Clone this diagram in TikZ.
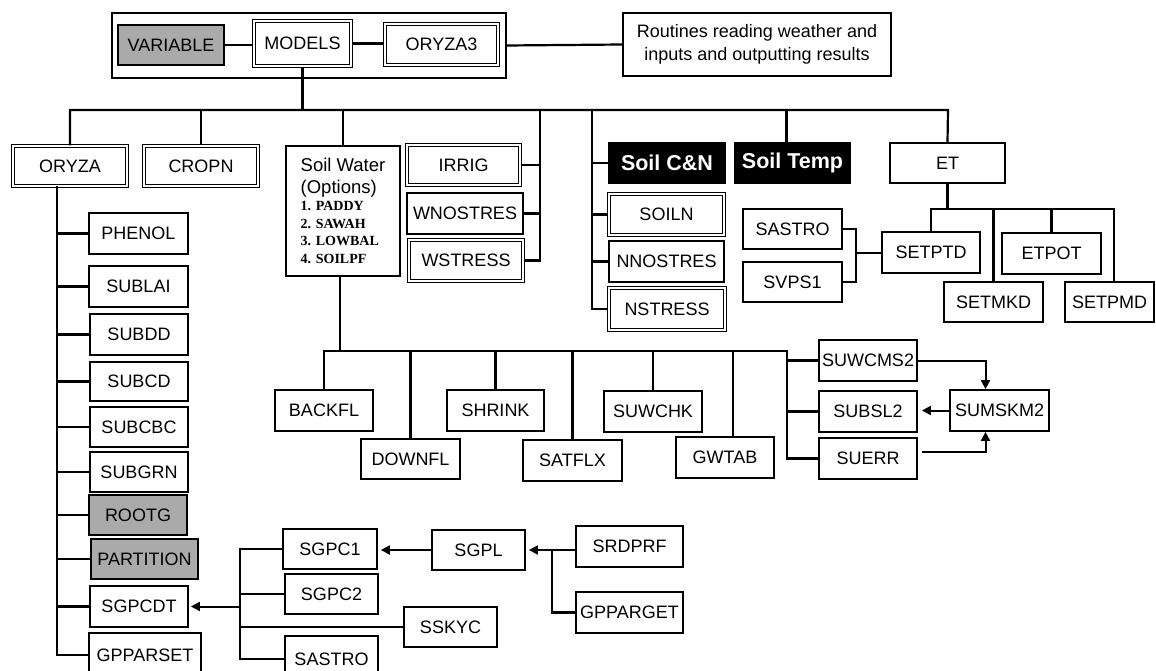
\documentclass[tikz,border=0pt]{standalone}
\usepackage{fontspec}
\setmainfont{Liberation Sans}
\newfontfamily\listserif{Liberation Serif}
\usetikzlibrary{arrows.meta}
\definecolor{boxgray}{RGB}{170,170,170}
\newcommand\bx[7]{\node[#1,minimum width={(#4-#2)*1pt},minimum height={(#5-#3)*1pt}] (#6) at ({(#2+#4)/2},{(#3+#5)/2}) {#7};}
\newcommand\listf{\listserif\bfseries\fontsize{14}{17}\selectfont}
\tikzset{
  box/.style={draw, line width=1.8pt, inner sep=0pt, fill=white, text=black, font=\fontsize{18}{21}\selectfont},
  dbox/.style={box, double, double distance=1.8pt, line width=1.4pt},
  gbox/.style={box, fill=boxgray},
  bbox/.style={box, fill=black, text=white, font=\bfseries\fontsize{21.5}{24}\selectfont},
  conn/.style={line width=2.2pt, line join=miter},
  arr/.style={line width=2pt, -{Triangle[length=9pt,width=9pt]}},
}
\begin{document}
\begin{tikzpicture}[x=1pt,y=-1pt]
\useasboundingbox (0,0) rectangle (1156,671);
\clip (0,0) rectangle (1156,671);
% top
\bx{box}{112}{13}{506}{78}{frame}{}
\bx{gbox}{118}{25}{224}{65}{variable}{VARIABLE}
\bx{dbox}{254}{21}{351}{66}{models}{MODELS}
\bx{dbox}{385}{24}{498}{65}{oryza3}{ORYZA3}
\bx{box,align=center,font=\fontsize{18}{22.5}\selectfont}{623}{13}{891}{76}{routines}{Routines reading weather and\\inputs and outputting results}
% level 1
\bx{dbox}{13}{146}{127}{186}{oryza}{ORYZA}
\bx{dbox}{144}{146}{258}{186}{cropn}{CROPN}
\bx{box,align=left,font=\fontsize{18.5}{22}\selectfont}{286}{146}{400}{276}{soilwater}{Soil Water\\(Options)\\[-5pt]{\listf 1. PADDY}\\[-4.5pt]{\listf 2. SAWAH}\\[-4.5pt]{\listf 3. LOWBAL}\\[-4.5pt]{\listf 4. SOILPF}}
\bx{dbox}{407}{145}{520}{185}{irrig}{IRRIG}
\bx{box}{407}{193}{523}{234}{wnostres}{WNOSTRES}
\bx{dbox}{409}{240}{523}{281}{wstress}{WSTRESS}
\bx{bbox}{609}{143}{725}{183}{soilcn}{Soil C\&N}
\bx{dbox}{609}{194}{724}{235}{soiln}{SOILN}
\bx{box}{609}{241}{724}{282}{nnostres}{NNOSTRES}
\bx{dbox}{609}{288}{725}{330}{nstress}{NSTRESS}
\bx{bbox}{735}{143}{850}{183}{soiltemp}{Soil Temp}
\bx{box}{890}{143}{1005}{183}{et}{ET}
\bx{box}{743}{209}{842}{249}{sastroA}{SASTRO}
\bx{box}{743}{262}{842}{302}{svps}{SVPS1}
\bx{box}{882}{232}{980}{273}{setptd}{SETPTD}
\bx{box}{944}{282}{1043}{322}{setmkd}{SETMKD}
\bx{box}{1002}{233}{1101}{274}{etpot}{ETPOT}
\bx{box}{1065}{282}{1154}{322}{setpmd}{SETPMD}
% left column
\bx{box}{89}{213}{188}{254}{phenol}{PHENOL}
\bx{box}{89}{266}{188}{307}{sublai}{SUBLAI}
\bx{box}{90}{314}{188}{355}{subdd}{SUBDD}
\bx{box}{90}{362}{188}{401}{subcd}{SUBCD}
\bx{box}{90}{407}{188}{447}{subcbc}{SUBCBC}
\bx{box}{90}{452}{188}{492}{subgrn}{SUBGRN}
\bx{gbox}{89}{495}{187}{535}{rootg}{ROOTG}
\bx{gbox}{91}{539}{198}{579}{partition}{PARTITION}
\bx{box}{90}{586}{188}{627}{sgpcdt}{SGPCDT}
\bx{box}{89}{633}{201}{677}{gpparset}{GPPARSET}
% soil water subroutines
\bx{box}{275}{390}{373}{431}{backfl}{BACKFL}
\bx{box}{361}{439}{460}{479}{downfl}{DOWNFL}
\bx{box}{447}{390}{544}{431}{shrink}{SHRINK}
\bx{box}{523}{440}{622}{481}{satflx}{SATFLX}
\bx{box}{604}{391}{702}{432}{suwchk}{SUWCHK}
\bx{box}{676}{437}{774}{478}{gwtab}{GWTAB}
\bx{box}{819}{340}{917}{381}{suwcms}{SUWCMS2}
\bx{box}{819}{391}{917}{432}{subsl}{SUBSL2}
\bx{box}{819}{438}{917}{479}{suerr}{SUERR}
\bx{box}{950}{390}{1049}{431}{sumskm}{SUMSKM2}
% bottom
\bx{box}{283}{529}{377}{569}{sgpc1}{SGPC1}
\bx{box}{285}{574}{378}{614}{sgpc2}{SGPC2}
\bx{box}{404}{607}{497}{647}{sskyc}{SSKYC}
\bx{box}{285}{636}{378}{682}{sastroB}{SASTRO}
\bx{box}{432}{530}{525}{570}{sgpl}{SGPL}
\bx{box}{576}{526}{683}{567}{srdprf}{SRDPRF}
\bx{box}{576}{592}{683}{633}{gppar}{GPPARGET}

% connectors top
\coordinate (busL) at (70,110);
\coordinate (busR) at (948,110);
\draw[conn] (variable.east) -- (variable.east -| models.west);
\draw[conn] (models.east) -- (models.east -| oryza3.west);
\draw[conn] (frame.east) -- (routines.west);
\draw[conn] (models.south) -- (models.south |- busL);
\draw[conn] (oryza.north) |- (busR) -- (et.north);
\draw[conn] (cropn.north) -- (cropn.north |- busL);
\draw[conn] (soilwater.north) -- (soilwater.north |- busL);
\draw[conn] ([xshift=-6pt]soiltemp.north) -- ([xshift=-6pt]soiltemp.north |- busL);
% IRRIG group
\coordinate (iv) at (540,110);
\draw[conn] (iv) |- (wstress.east);
\draw[conn] (irrig.east) -- (irrig.east -| iv);
\draw[conn] (wnostres.east) -- (wnostres.east -| iv);
% Soil C&N group
\coordinate (cv) at (592,110);
\draw[conn] (cv) |- (nstress.west);
\foreach \n in {soilcn,soiln,nnostres} \draw[conn] (cv |- \n.west) -- (\n.west);
% ET group
\coordinate (e2R) at (1114,209);
\draw[conn] (et.south) -- (et.south |- e2R);
\draw[conn] (setptd.north) |- (e2R) -- (e2R |- setpmd.north);
\draw[conn] (setmkd.north) -- (setmkd.north |- e2R);
\draw[conn] (etpot.north) -- (etpot.north |- e2R);
\coordinate (sj) at (856,253);
\draw[conn] (sastroA.east) -| (sj) |- (svps.east);
\draw[conn] (sj) -- (sj -| setptd.west);
% ORYZA trunk
\coordinate (ot) at (57,186);
\draw[conn] (ot) |- (gpparset.west);
\foreach \n in {phenol,sublai,subdd,subcd,subcbc,subgrn,rootg,partition,sgpcdt} \draw[conn] (ot |- \n.west) -- (\n.west);
% soil water bus
\coordinate (swL) at (323,351);
\coordinate (swR) at (787,351);
\draw[conn] ([xshift=-3pt]soilwater.south) -- ([xshift=-3pt]soilwater.south |- swL);
\draw[conn] (backfl.north) |- (swR) |- (suerr.west);
\foreach \n in {downfl,shrink,satflx,suwchk} \draw[conn] (\n.north) -- (\n.north |- swL);
\draw[conn] ([xshift=8pt]gwtab.north) -- ([xshift=8pt]gwtab.north |- swL);
\draw[conn] (swR |- suwcms.west) -- (suwcms.west);
\draw[conn] (swR |- subsl.west) -- (subsl.west);
\draw[arr] (suwcms.east) -| ([xshift=-14pt]sumskm.north);
\draw[arr, shorten >=4pt] (sumskm.west) -- (sumskm.west -| subsl.east);
\draw[arr, shorten <=4pt] ([yshift=7pt]suerr.east) -| ([xshift=-14pt]sumskm.south);
% bottom group
\coordinate (gv) at (240,549);
\draw[conn] (sgpc1.west) -| (gv |- sastroB.west) -- (sastroB.west);
\draw[conn] (gv |- sgpc2.west) -- (sgpc2.west);
\draw[conn] (gv |- sskyc.west) -- (sskyc.west);
\draw[arr, shorten >=2pt] (gv |- sgpcdt.east) -- (sgpcdt.east);
\draw[arr, shorten >=3pt] (sgpl.west) -- (sgpl.west -| sgpc1.east);
\coordinate (pj) at (552,550);
\draw[arr, shorten >=3pt] (srdprf.west |- pj) -- (pj -| sgpl.east);
\draw[conn] (gppar.west) -| (pj);
\end{tikzpicture}
\end{document}
